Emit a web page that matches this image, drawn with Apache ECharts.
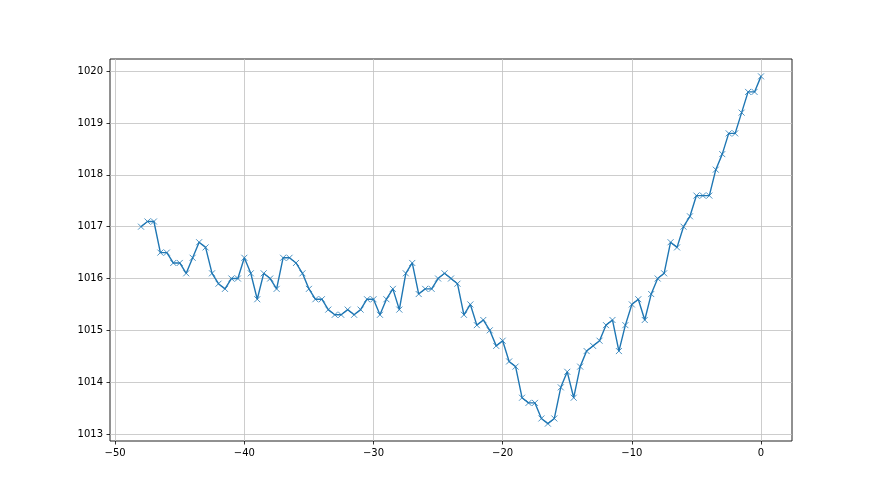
<!DOCTYPE html>
<html>
<head>
<meta charset="utf-8">
<script src="https://cdn.jsdelivr.net/npm/echarts@6/dist/echarts.min.js"></script>
<style>
html,body{margin:0;padding:0;background:#fff;}
#chart{width:880px;height:495px;}
</style>
</head>
<body>
<div id="chart"></div>
<script>
var hours = [-48,-47.5,-47,-46.5,-46,-45.5,-45,-44.5,-44,-43.5,
  -43,-42.5,-42,-41.5,-41,-40.5,-40,-39.5,-39,-38.5,
  -38,-37.5,-37,-36.5,-36,-35.5,-35,-34.5,-34,-33.5,
  -33,-32.5,-32,-31.5,-31,-30.5,-30,-29.5,-29,-28.5,
  -28,-27.5,-27,-26.5,-26,-25.5,-25,-24.5,-24,-23.5,
  -23,-22.5,-22,-21.5,-21,-20.5,-20,-19.5,-19,-18.5,
  -18,-17.5,-17,-16.5,-16,-15.5,-15,-14.5,-14,-13.5,
  -13,-12.5,-12,-11.5,-11,-10.5,-10,-9.5,-9,-8.5,
  -8,-7.5,-7,-6.5,-6,-5.5,-5,-4.5,-4,-3.5,
  -3,-2.5,-2,-1.5,-1,-0.5,0];
var pressure = [1017.0,1017.1,1017.1,1016.5,1016.5,1016.3,1016.3,1016.1,1016.4,1016.7,
  1016.6,1016.1,1015.9,1015.8,1016.0,1016.0,1016.4,1016.1,1015.6,1016.1,
  1016.0,1015.8,1016.4,1016.4,1016.3,1016.1,1015.8,1015.6,1015.6,1015.4,
  1015.3,1015.3,1015.4,1015.3,1015.4,1015.6,1015.6,1015.3,1015.6,1015.8,
  1015.4,1016.1,1016.3,1015.7,1015.8,1015.8,1016.0,1016.1,1016.0,1015.9,
  1015.3,1015.5,1015.1,1015.2,1015.0,1014.7,1014.8,1014.4,1014.3,1013.7,
  1013.6,1013.6,1013.3,1013.2,1013.3,1013.9,1014.2,1013.7,1014.3,1014.6,
  1014.7,1014.8,1015.1,1015.2,1014.6,1015.1,1015.5,1015.6,1015.2,1015.7,
  1016.0,1016.1,1016.7,1016.6,1017.0,1017.2,1017.6,1017.6,1017.6,1018.1,
  1018.4,1018.8,1018.8,1019.2,1019.6,1019.6,1019.9];
var xTicks = [-50,-40,-30,-20,-10,0];
var yTicks = [1013,1014,1015,1016,1017,1018,1019,1020];

var points = [];
for (var i = 0; i < hours.length; i++) points.push([hours[i], pressure[i]]);

var chart = echarts.init(document.getElementById('chart'), null, {renderer:'canvas'});
var labelFont = {color:'#000', fontSize:10, fontFamily:'DejaVu Sans'};
chart.setOption({
  animation:false,
  backgroundColor:'#fff',
  grid:{left:110, right:88, top:59, bottom:54, show:true, borderColor:'#222', borderWidth:1, backgroundColor:'transparent'},
  xAxis:{
    type:'value', min:-50.4, max:2.4, position:'bottom',
    axisLine:{show:false, onZero:false},
    axisTick:{show:true, customValues:xTicks, length:3.5, inside:false, lineStyle:{color:'#000', width:0.8}},
    axisLabel:Object.assign({customValues:xTicks, margin:7, formatter:function(v){return String(v).replace('-', '\u2212');}}, labelFont),
    splitLine:{show:true, lineStyle:{color:'#c0c0c0', width:0.8}}
  },
  yAxis:{
    type:'value', min:1012.865, max:1020.235, position:'left',
    axisLine:{show:false, onZero:false},
    axisTick:{show:true, customValues:yTicks, length:3.5, inside:false, lineStyle:{color:'#000', width:0.8}},
    axisLabel:Object.assign({customValues:yTicks, margin:7, formatter:function(v){return String(v);}}, labelFont),
    splitLine:{show:true, lineStyle:{color:'#c0c0c0', width:0.8}}
  },
  series:[{
    type:'line',
    data:points,
    symbol:'path://M0,0L10,10M10,0L0,10',
    symbolSize:6,
    showAllSymbol:true,
    lineStyle:{color:'#1f77b4', width:1.4},
    itemStyle:{color:'none', borderColor:'#1f77b4', borderWidth:0.8},
    z:3
  }]
});
</script>
</body>
</html>
